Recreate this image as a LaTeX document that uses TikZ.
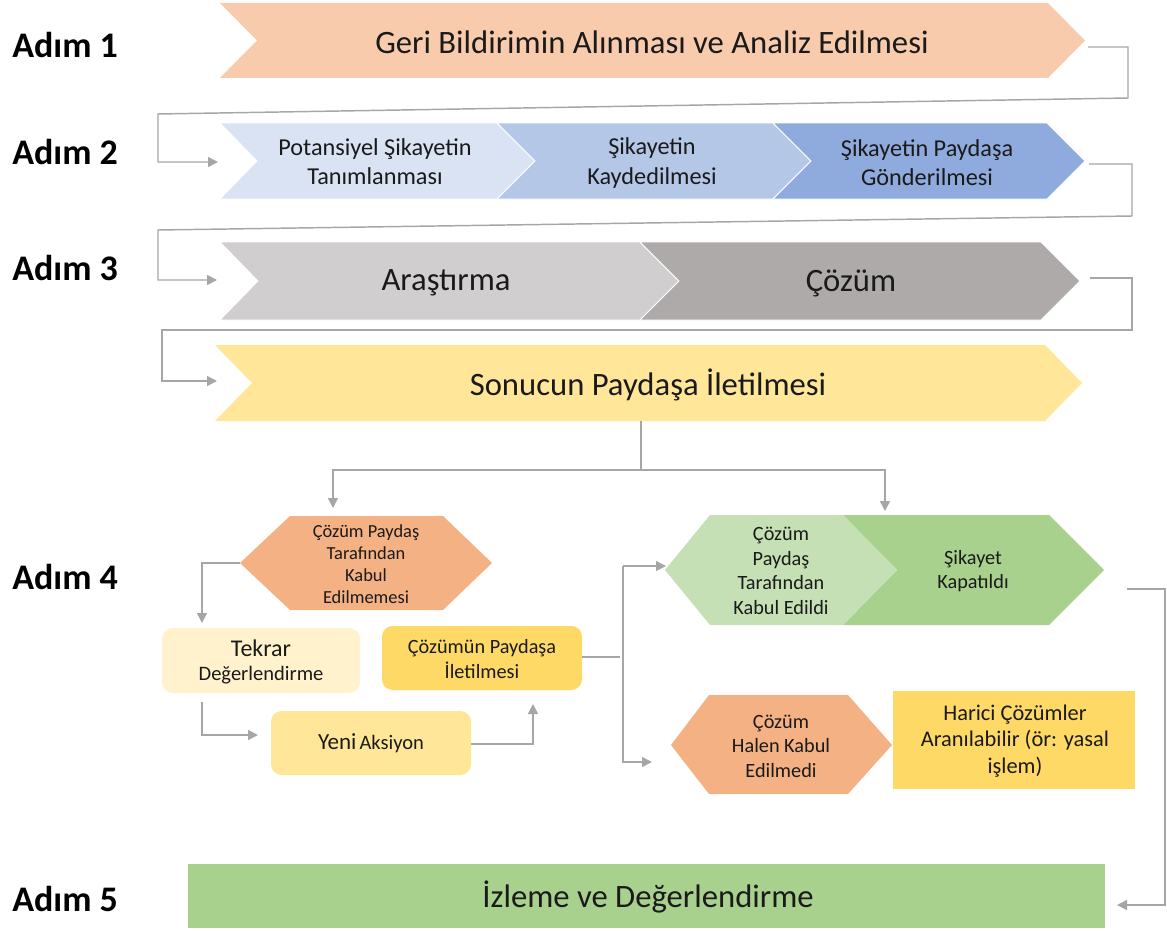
\documentclass[tikz,border=0pt]{standalone}
\usepackage{fontspec}
\setmainfont{Carlito}
\usetikzlibrary{arrows.meta}
\definecolor{cgray}{HTML}{A6A6A6}
\definecolor{cpeach}{HTML}{F8CBAD}
\definecolor{cblueA}{HTML}{DAE3F3}
\definecolor{cblueB}{HTML}{B4C7E7}
\definecolor{cblueC}{HTML}{8FAADC}
\definecolor{cgrayA}{HTML}{D0CECE}
\definecolor{cgrayB}{HTML}{AEAAAA}
\definecolor{cyel}{HTML}{FFE699}
\definecolor{cyelL}{HTML}{FFF2CC}
\definecolor{cyelD}{HTML}{FFD966}
\definecolor{corange}{HTML}{F4B183}
\definecolor{cgreenL}{HTML}{C5E0B4}
\definecolor{cgreenD}{HTML}{A9D18E}
\definecolor{ctext}{HTML}{1A1A1A}
\begin{document}
\begin{tikzpicture}[x=0.75pt,y=-0.75pt,
  conn/.style={draw=cgray, line width=1.1pt},
  arr/.style={conn, -{Triangle[length=7.5pt,width=7.5pt]}},
  txt/.style={align=center, text=ctext, inner sep=0pt},
  big/.style={txt, font=\fontsize{24.5}{29}\selectfont},
  mid/.style={txt, font=\fontsize{18.2}{21.8}\selectfont},
  stepname/.style={anchor=west, inner sep=0pt, text=black, font=\fontsize{27}{30}\selectfont\bfseries},
  shp/.style={draw=white, line width=0.6pt},
  box/.style={rounded corners=8pt}
]
\useasboundingbox (0,0) rectangle (1167,931);

% step labels
\node[stepname] (s1) at (12,45) {Adım 1};
\node[stepname] (s2) at (12,152) {Adım 2};
\node[stepname] (s3) at (12,268) {Adım 3};
\node[stepname] (s4) at (12,577) {Adım 4};
\node[stepname] (s5) at (12,899) {Adım 5};

% Row 1
\path[fill=cpeach] (220,3) -- (1048,3) -- (1085,40.5) -- (1048,78) -- (220,78) -- (257,40.5) -- cycle;
\node[big] (r1) at (652,42) {Geri Bildirimin Alınması ve Analiz Edilmesi};

% Row 2
\path[fill=cblueA,shp] (220,123) -- (497,123) -- (535,161) -- (497,199) -- (220,199) -- (257,161) -- cycle;
\path[fill=cblueB,shp] (497,123) -- (773,123) -- (811,161) -- (773,199) -- (497,199) -- (535,161) -- cycle;
\path[fill=cblueC,shp] (773,123) -- (1047,123) -- (1085,161) -- (1047,199) -- (773,199) -- (811,161) -- cycle;
\node[mid] (r2a) at (375,162) {Potansiyel Şikayetin\\Tanımlanması};
\node[mid] (r2b) at (652,163) {Şikayetin\\Kaydedilmesi};
\node[mid] (r2c) at (927,163) {Şikayetin Paydaşa\\Gönderilmesi};

% Row 3
\path[fill=cgrayA,shp] (220,242) -- (640,242) -- (679,281) -- (640,320) -- (220,320) -- (258,281) -- cycle;
\path[fill=cgrayB,shp] (640,242) -- (1041,242) -- (1080,281) -- (1041,320) -- (640,320) -- (679,281) -- cycle;
\node[big] (r3a) at (446,283) {Araştırma};
\node[big] (r3b) at (851,283) {Çözüm};

% Row 4 (result)
\path[fill=cyel] (215,345) -- (1045,345) -- (1082,383) -- (1045,421) -- (215,421) -- (252,383) -- cycle;
\node[big] (r4) at (648,385) {Sonucun Paydaşa İletilmesi};

% Step 4 shapes
\path[fill=corange] (290,516) -- (443,516) -- (492,563) -- (443,610) -- (290,610) -- (240,563) -- cycle;
\node[txt, font=\fontsize{13.8}{16.5}\selectfont] (hexL) at (366,564) {Çözüm Paydaş\\Tarafından\\Kabul\\Edilmemesi};

\path[fill=cyelL, box] (162,628) rectangle (360,693);
\node[txt, font=\fontsize{18}{22}\selectfont] (tekrar) at (261,648) {Tekrar};
\node[txt, font=\fontsize{15.4}{18}\selectfont] (degerl) at (261,675) {Değerlendirme};

\path[fill=cyelD, box] (382,626) rectangle (582,690);
\node[txt, font=\fontsize{15.2}{19}\selectfont] (cozumun) at (482,659) {Çözümün Paydaşa\\İletilmesi};

\path[fill=cyel, box] (271,711) rectangle (471,775);
\node[txt] (yeni) at (371,743) {{\fontsize{17.3}{20}\selectfont Yeni} {\fontsize{15.4}{18}\selectfont Aksiyon}};

\path[fill=cgreenD] (843,515) -- (1049,515) -- (1104,570) -- (1049,625) -- (843,625) -- (897,570) -- cycle;
\path[fill=cgreenL] (710,515) -- (843,515) -- (897,570) -- (843,625) -- (710,625) -- (665,570) -- cycle;
\node[txt, font=\fontsize{15.2}{18.4}\selectfont] (kabul) at (781,571) {Çözüm\\Paydaş\\Tarafından\\Kabul Edildi};
\node[txt, font=\fontsize{15.2}{18.4}\selectfont] (kapat) at (973,571) {Şikayet\\Kapatıldı};

\path[fill=corange] (709,695) -- (848,695) -- (892,745) -- (848,794) -- (709,794) -- (671,745) -- cycle;
\node[txt, font=\fontsize{15.2}{18.4}\selectfont] (halen) at (781,746) {Çözüm\\Halen Kabul\\Edilmedi};

\path[fill=cyelD] (893,691) rectangle (1135,789);
\node[txt, font=\fontsize{16.8}{20}\selectfont] (harici) at (1015,741) {Harici Çözümler\\Aranılabilir (ör: yasal\\işlem)};

% Step 5
\path[fill=cgreenD] (188,864) rectangle (1105,928);
\node[big] (izleme) at (648,897) {İzleme ve Değerlendirme};

% connector coordinates
\coordinate (t1) at (1088,47);
\coordinate (in2) at (218,162);
\coordinate (t2) at (1089,164);
\coordinate (in3) at (217,280);
\coordinate (t3) at (1090,278);
\coordinate (in4) at (217,381);
\coordinate (o4) at (641,421);
\coordinate (hexLtop) at (333,508);
\coordinate (kabulTop) at (885,511);
\coordinate (hexLw) at (240,563);
\coordinate (tekrarTop) at (202,623);
\coordinate (tekrarBot) at (202,702);
\coordinate (yeniW) at (258,735);
\coordinate (yeniE) at (471,744);
\coordinate (cozBot) at (533,704);
\coordinate (cozE) at (582,657);
\coordinate (kabulW) at (666,566);
\coordinate (halenW) at (652,762);
\coordinate (kapatE) at (1127,589);
\coordinate (izlemeE) at (1117,905);

% connectors
\draw[arr] (t1) -- (1128,47) -- (1128,98) -- (158,114) -- (158,162) -- (in2);
\draw[arr] (t2) -- (1132,164) -- (1132,216) -- (158,230) -- (158,280) -- (in3);
\draw[arr] (t3) -- (1132,278) -- (1132,330) -- (162,330) -- (162,381) -- (in4);
\draw[conn] (o4) -- (641,470);
\draw[arr] (641,470) -- (333,470) -- (hexLtop);
\draw[arr] (641,470) -- (885,470) -- (kabulTop);
\draw[arr] (hexLw) -- (202,563) -- (tekrarTop);
\draw[arr] (tekrarBot) -- (202,735) -- (yeniW);
\draw[arr] (yeniE) -- (533,744) -- (cozBot);
\draw[conn] (cozE) -- (620,657);
\draw[arr] (623,566) -- (kabulW);
\draw[arr] (623,566) -- (623,762) -- (halenW);
\draw[arr] (kapatE) -- (1165,589) -- (1165,905) -- (izlemeE);
\end{tikzpicture}
\end{document}
